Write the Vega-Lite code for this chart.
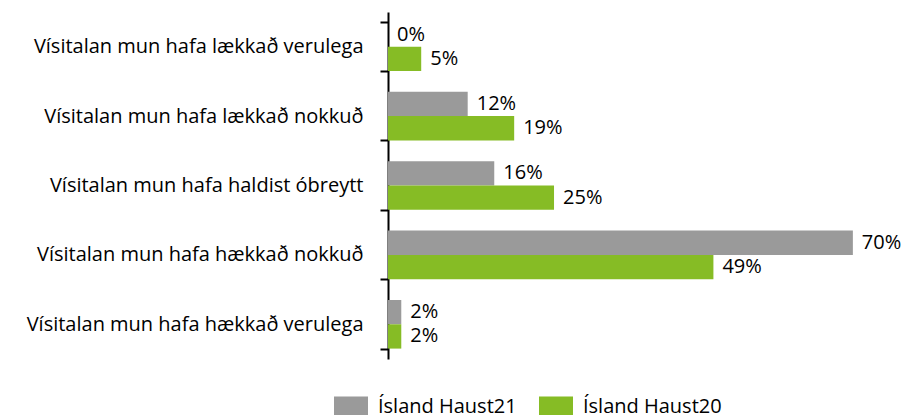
{
  "$schema": "https://vega.github.io/schema/vega-lite/v6.json",
  "autosize": "none",
  "width": 518,
  "height": 347,
  "padding": {"left": 388, "top": 12, "right": 0, "bottom": 56},
  "background": "white",
  "config": {"view": {"stroke": null}, "font": "Open Sans"},
  "data": {
    "values": [
      {"category": "Vísitalan mun hafa lækkað verulega", "series": "Ísland Haust21", "value": 0},
      {"category": "Vísitalan mun hafa lækkað verulega", "series": "Ísland Haust20", "value": 5},
      {"category": "Vísitalan mun hafa lækkað nokkuð", "series": "Ísland Haust21", "value": 12},
      {"category": "Vísitalan mun hafa lækkað nokkuð", "series": "Ísland Haust20", "value": 19},
      {"category": "Vísitalan mun hafa haldist óbreytt", "series": "Ísland Haust21", "value": 16},
      {"category": "Vísitalan mun hafa haldist óbreytt", "series": "Ísland Haust20", "value": 25},
      {"category": "Vísitalan mun hafa hækkað nokkuð", "series": "Ísland Haust21", "value": 70},
      {"category": "Vísitalan mun hafa hækkað nokkuð", "series": "Ísland Haust20", "value": 49},
      {"category": "Vísitalan mun hafa hækkað verulega", "series": "Ísland Haust21", "value": 2},
      {"category": "Vísitalan mun hafa hækkað verulega", "series": "Ísland Haust20", "value": 2}
    ]
  },
  "encoding": {
    "y": {
      "field": "category",
      "type": "nominal",
      "sort": null,
      "scale": {"paddingInner": 0.3, "paddingOuter": 0.15},
      "axis": {
        "title": null,
        "domainColor": "black",
        "domainWidth": 2,
        "tickColor": "black",
        "tickWidth": 2,
        "tickSize": 8,
        "tickBand": "extent",
        "labelFontSize": 20,
        "labelColor": "black",
        "labelPadding": 17,
        "labelLimit": 400
      }
    },
    "yOffset": {"field": "series", "type": "nominal", "sort": ["Ísland Haust21", "Ísland Haust20"]},
    "x": {
      "field": "value",
      "type": "quantitative",
      "scale": {"domain": [0, 78], "nice": false},
      "axis": null
    }
  },
  "layer": [
    {
      "mark": {"type": "bar"},
      "encoding": {
        "color": {
          "field": "series",
          "type": "nominal",
          "sort": ["Ísland Haust21", "Ísland Haust20"],
          "scale": {"domain": ["Ísland Haust21", "Ísland Haust20"], "range": ["#9a9a9a", "#86bc25"]},
          "legend": {
            "title": null,
            "orient": "none",
            "direction": "horizontal",
            "legendX": -54,
            "legendY": 378,
            "symbolType": "M-1,-0.65H1V0.65H-1Z",
            "symbolSize": 1156,
            "symbolStrokeWidth": 0,
            "symbolOpacity": 1,
            "labelFontSize": 20,
            "labelColor": "black",
            "labelOffset": 10,
            "columnPadding": 22,
            "labelLimit": 300
          }
        }
      }
    },
    {
      "mark": {"type": "text", "align": "left", "baseline": "middle", "dx": 9, "fontSize": 20, "color": "black", "text": {"expr": "datum.value + '%'"}},
      "encoding": {
        "detail": {"field": "series"}
      }
    }
  ]
}
